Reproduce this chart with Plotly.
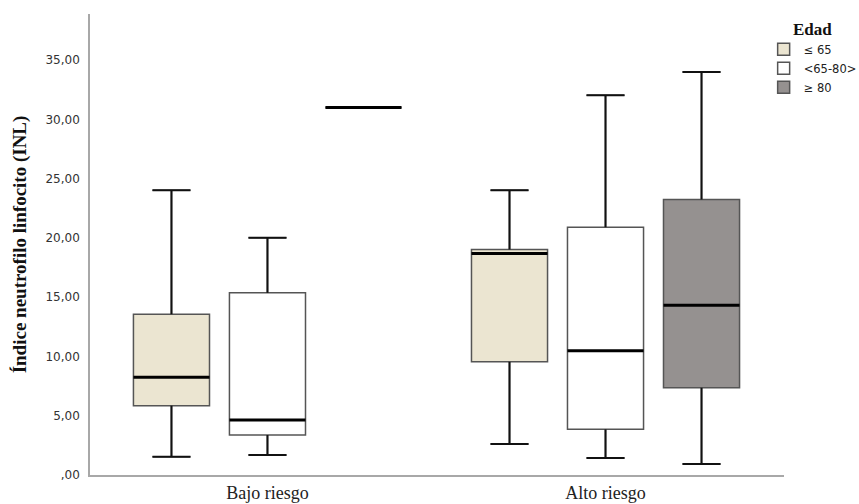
import plotly.graph_objects as go

# Risk groups on the x axis
groups = ["Bajo riesgo", "Alto riesgo"]

# Age bands (legend) and their fills
age_bands = ["≤ 65", "<65-80>", "≥ 80"]
fills = ["#ebe5d1", "#ffffff", "#959190"]

# Box statistics per age band, one value per risk group
q1 = {
    "≤ 65": [5.85, 9.55],
    "<65-80>": [3.37, 3.85],
    "≥ 80": [31.0, 7.36],
}
median = {
    "≤ 65": [8.24, 18.69],
    "<65-80>": [4.64, 10.48],
    "≥ 80": [31.0, 14.33],
}
q3 = {
    "≤ 65": [13.57, 19.03],
    "<65-80>": [15.37, 20.91],
    "≥ 80": [31.0, 23.25],
}
lower = {
    "≤ 65": [1.55, 2.61],
    "<65-80>": [1.69, 1.43],
    "≥ 80": [31.0, 0.93],
}
upper = {
    "≤ 65": [24.03, 24.03],
    "<65-80>": [20.01, 32.04],
    "≥ 80": [31.0, 34.0],
}

# Y axis ticks
y_ticks = [0, 5, 10, 15, 20, 25, 30, 35]
y_tick_text = [",00", "5,00", "10,00", "15,00", "20,00", "25,00", "30,00", "35,00"]

offsets = [-0.284, 0.0, 0.284]
box_w = 0.225
cap_w = box_w * 0.5

fig = go.Figure()
for band, fill, off in zip(age_bands, fills, offsets):
    xs = [i + off for i in range(len(groups))]
    fig.add_trace(go.Box(
        name=band,
        x=xs,
        q1=q1[band], median=median[band], q3=q3[band],
        lowerfence=lower[band], upperfence=upper[band],
        width=box_w,
        whiskerwidth=0.5,
        fillcolor=fill,
        line=dict(color="#555555", width=1.5),
        boxpoints=False,
        hoverinfo="skip",
    ))

# Black whiskers, caps and heavier medians drawn over the boxes
for band, off in zip(age_bands, offsets):
    wx, wy = [], []
    mx, my = [], []
    for i in range(len(groups)):
        c = i + off
        if upper[band][i] > q3[band][i]:
            wx += [c, c, None, c - cap_w / 2, c + cap_w / 2, None]
            wy += [q3[band][i], upper[band][i], None, upper[band][i], upper[band][i], None]
        if lower[band][i] < q1[band][i]:
            wx += [c, c, None, c - cap_w / 2, c + cap_w / 2, None]
            wy += [q1[band][i], lower[band][i], None, lower[band][i], lower[band][i], None]
        mx += [c - box_w / 2, c + box_w / 2, None]
        my += [median[band][i], median[band][i], None]
    fig.add_trace(go.Scatter(
        x=wx, y=wy, mode="lines",
        line=dict(color="#111111", width=2),
        showlegend=False, hoverinfo="skip",
    ))
    fig.add_trace(go.Scatter(
        x=mx, y=my, mode="lines",
        line=dict(color="#000000", width=3),
        showlegend=False, hoverinfo="skip",
    ))

fig.update_layout(
    width=859, height=504,
    margin=dict(l=90, r=75, t=14, b=29, autoexpand=False),
    paper_bgcolor="white", plot_bgcolor="white",
    boxmode="overlay",
    showlegend=True,
    legend=dict(
        xref="container", yref="container",
        x=0.889, y=0.975, xanchor="left", yanchor="top",
        title=dict(text="<b>Edad</b>", side="top center",
                   font=dict(family="Liberation Serif", size=17, color="#111")),
        font=dict(family="DejaVu Sans", size=11.5, color="#222"),
        bgcolor="rgba(0,0,0,0)",
        tracegroupgap=0,
    ),
    xaxis=dict(
        range=[-0.525, 1.528],
        tickvals=list(range(len(groups))),
        ticktext=groups,
        tickfont=dict(family="Liberation Serif", size=18, color="#222"),
        showgrid=False, zeroline=False,
        showline=True, linecolor="#a8a8a8", linewidth=1.5,
        ticks="", ticklabelstandoff=1,
        automargin=False,
    ),
    yaxis=dict(
        range=[0, 38.9],
        tickvals=y_ticks,
        ticktext=y_tick_text,
        tickfont=dict(family="DejaVu Sans", size=12, color="#333"),
        showgrid=False, zeroline=False,
        showline=True, linecolor="#a8a8a8", linewidth=1.5,
        ticks="", ticklabelstandoff=6,
        automargin=False,
        title=dict(text="<b>Índice neutrofilo linfocito (INL)</b>",
                   font=dict(family="Liberation Serif", size=19, color="#111"),
                   standoff=14),
    ),
)

fig.write_html("out.html")
